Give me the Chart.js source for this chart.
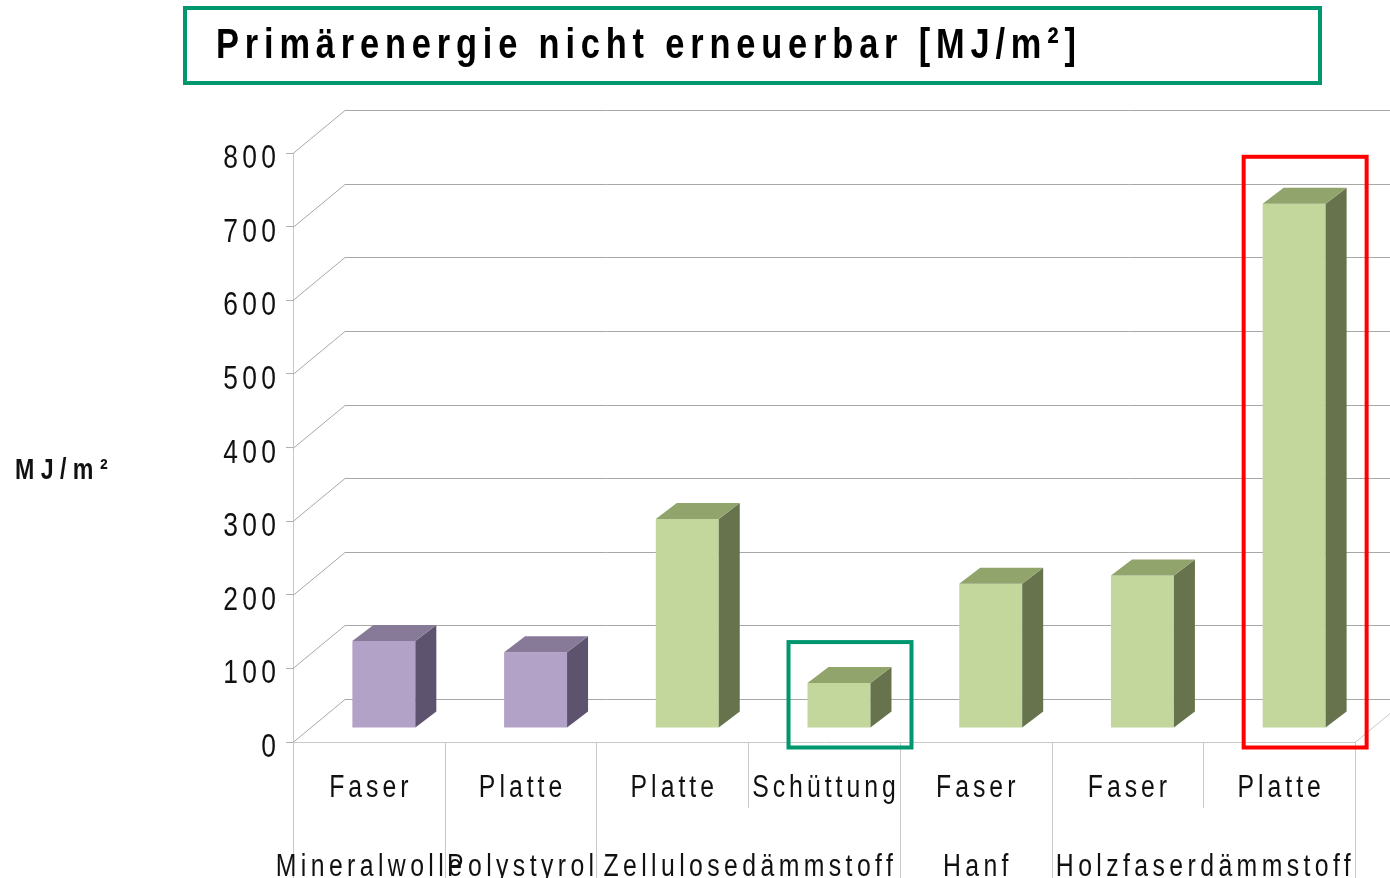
<!DOCTYPE html>
<html>
<head>
  <meta charset="utf-8" />
  <title>Primärenergie nicht erneuerbar</title>
  <script src="https://cdn.jsdelivr.net/npm/chart.js"></script>
  <style>
    html, body { margin: 0; padding: 0; background: #fff; }
  </style>
</head>
<body>
  <canvas id="peChart" width="1390" height="878"></canvas>
  <script>
    // Daten
    const subLabels = ['Faser', 'Platte', 'Platte', 'Schüttung', 'Faser', 'Faser', 'Platte'];
    const groupLabels = ['Mineralwolle', 'Polystyrol', 'Zellulosedämmstoff', 'Hanf', 'Holzfaserdämmstoff'];
    const groupSpans = [1, 1, 2, 1, 2];
    const values = [118, 103, 284, 61, 196, 207, 712];
    const yTickValues = [0, 100, 200, 300, 400, 500, 600, 700, 800];
    const titleText = 'Primärenergie nicht erneuerbar [MJ/m²]';
    const yAxisTitle = 'MJ/m²';

    const FONT = '"Liberation Sans", Arial, sans-serif';
    const purple = { front: '#B3A2C7', side: '#5E536E', top: '#877A98' };
    const green = { front: '#C3D69B', side: '#67734C', top: '#90A46C' };
    const barColors = values.map((v, i) => i < 2 ? purple : green);

    // 3D-Versatz
    const wall = { dx: 52, dy: -43 };     // Rückwand
    const barShift = { dx: 15, dy: -14 }; // Lage der Säulen in der Tiefe
    const depth = { dx: 21, dy: -16 };    // Säulentiefe

    // schmale, gesperrte Schrift (Calibri-Ersatz)
    function narrowText(ctx, text, x, y, o) {
      const sx = o.sx || 0.8;
      const sp = o.spacing || 0;
      ctx.save();
      ctx.font = o.font;
      ctx.letterSpacing = sp + 'px';
      ctx.textAlign = o.align || 'left';
      ctx.textBaseline = 'alphabetic';
      ctx.fillStyle = o.color || '#111';
      let ox = 0;
      if (o.align === 'center') ox = sp * sx / 2;
      if (o.align === 'right') ox = sp * sx;
      ctx.translate(x + ox, y);
      ctx.scale(sx, 1);
      ctx.fillText(text, 0, 0);
      ctx.restore();
    }

    const threeD = {
      id: 'threeD',
      beforeDatasetsDraw(chart) {
        const ctx = chart.ctx;
        const y = chart.scales.y;
        const x = chart.scales.x;
        const { left, right, bottom } = chart.chartArea;
        ctx.save();
        ctx.lineWidth = 1;
        // Rückwand-Gitter
        yTickValues.forEach(v => {
          const py = Math.round(y.getPixelForValue(v)) + 0.5;
          ctx.strokeStyle = '#a8a8a8';
          ctx.beginPath();
          ctx.moveTo(left, py);
          ctx.lineTo(left + wall.dx, py + wall.dy);
          ctx.lineTo(chart.width + 10, py + wall.dy);
          ctx.stroke();
        });
        // Boden rechts
        ctx.strokeStyle = '#c8c8c8';
        ctx.beginPath();
        ctx.moveTo(right, bottom + 0.5);
        ctx.lineTo(right + wall.dx, bottom + wall.dy + 0.5);
        ctx.stroke();
        // Kategorie-Trennlinien
        const step = x.getPixelForValue(1) - x.getPixelForValue(0);
        const longEdges = [0];
        groupSpans.reduce((acc, s) => { longEdges.push(acc + s); return acc + s; }, 0);
        for (let i = 0; i <= subLabels.length; i++) {
          const px = Math.round(x.getPixelForValue(0) - step / 2 + i * step) + 0.5;
          ctx.beginPath();
          ctx.moveTo(px, bottom);
          ctx.lineTo(px, longEdges.includes(i) ? chart.height : bottom + 66);
          ctx.stroke();
        }
        ctx.restore();

        ctx.save();
        ctx.translate(barShift.dx, barShift.dy);
      },
      afterDatasetsDraw(chart) {
        const ctx = chart.ctx;
        const meta = chart.getDatasetMeta(0);
        meta.data.forEach((bar, i) => {
          const p = bar.getProps(['x', 'y', 'base', 'width'], true);
          const l = p.x - p.width / 2;
          const r = p.x + p.width / 2;
          const c = barColors[i];
          ctx.fillStyle = c.side;
          ctx.beginPath();
          ctx.moveTo(r, p.y);
          ctx.lineTo(r + depth.dx, p.y + depth.dy);
          ctx.lineTo(r + depth.dx, p.base + depth.dy);
          ctx.lineTo(r, p.base);
          ctx.closePath();
          ctx.fill();
          ctx.fillStyle = c.top;
          ctx.beginPath();
          ctx.moveTo(l, p.y);
          ctx.lineTo(l + depth.dx, p.y + depth.dy);
          ctx.lineTo(r + depth.dx, p.y + depth.dy);
          ctx.lineTo(r, p.y);
          ctx.closePath();
          ctx.fill();
        });
        ctx.restore();

        // Markierungen
        const mark = (i, color, topGap) => {
          const p = meta.data[i].getProps(['x', 'y', 'base', 'width'], true);
          const l = p.x - p.width / 2 + barShift.dx - 19;
          const r = p.x + p.width / 2 + barShift.dx + depth.dx + 20;
          const t = p.y + barShift.dy + depth.dy - topGap;
          const b = p.base + 6;
          ctx.save();
          ctx.strokeStyle = color;
          ctx.lineWidth = 4;
          ctx.strokeRect(l, t, r - l, b - t);
          ctx.restore();
        };
        mark(3, '#00966E', 25);
        mark(6, '#FF0000', 31);
      },
      afterDraw(chart) {
        const ctx = chart.ctx;
        const x = chart.scales.x;
        const y = chart.scales.y;

        // y-Achsenbeschriftung
        yTickValues.forEach(v => {
          narrowText(ctx, String(v), 276, y.getPixelForValue(v) + 15,
            { font: '33px ' + FONT, align: 'right', spacing: 5.5, sx: 0.8 });
        });
        // Unterkategorien
        subLabels.forEach((s, i) => {
          narrowText(ctx, s, x.getPixelForValue(i), 797,
            { font: '31px ' + FONT, align: 'center', spacing: 5, sx: 0.8 });
        });
        // Gruppen
        let start = 0;
        groupLabels.forEach((g, k) => {
          const end = start + groupSpans[k] - 1;
          const cx = (x.getPixelForValue(start) + x.getPixelForValue(end)) / 2;
          narrowText(ctx, g, cx, 876,
            { font: '31px ' + FONT, align: 'center', spacing: 5.5, sx: 0.8 });
          start = end + 1;
        });
        // Achsentitel
        narrowText(ctx, yAxisTitle, 15, 479,
          { font: 'bold 29px ' + FONT, spacing: 8, sx: 0.8 });

        // Titel mit Rahmen
        ctx.save();
        ctx.strokeStyle = '#00966E';
        ctx.lineWidth = 4;
        ctx.strokeRect(185, 8, 1135, 75);
        ctx.font = 'bold 43px ' + FONT;
        ctx.letterSpacing = '0px';
        const w0 = ctx.measureText(titleText).width;
        ctx.restore();
        const sxT = 0.8;
        const spT = Math.max(0, (860 / sxT - w0) / (titleText.length - 1));
        narrowText(ctx, titleText, 216, 58,
          { font: 'bold 43px ' + FONT, spacing: spT, sx: sxT, color: '#000' });
      }
    };

    new Chart(document.getElementById('peChart'), {
      type: 'bar',
      data: {
        labels: subLabels,
        datasets: [{
          data: values,
          backgroundColor: barColors.map(c => c.front),
          categoryPercentage: 1,
          barPercentage: 0.415
        }]
      },
      options: {
        responsive: false,
        animation: false,
        layout: { padding: { top: 153, right: 35, left: 0, bottom: 0 } },
        plugins: {
          legend: { display: false },
          tooltip: { enabled: false }
        },
        scales: {
          x: {
            afterFit: s => { s.height = 136; },
            grid: { display: false },
            border: { display: true, color: '#c8c8c8' },
            ticks: { display: false }
          },
          y: {
            min: 0,
            max: 800,
            afterFit: s => { s.width = 293; },
            afterBuildTicks: s => { s.ticks = yTickValues.map(v => ({ value: v })); },
            grid: { drawOnChartArea: false, drawTicks: true, tickLength: 7, color: '#b0b0b0' },
            border: { display: true, color: '#c8c8c8' },
            ticks: { display: false }
          }
        }
      },
      plugins: [threeD]
    });
  </script>
</body>
</html>
